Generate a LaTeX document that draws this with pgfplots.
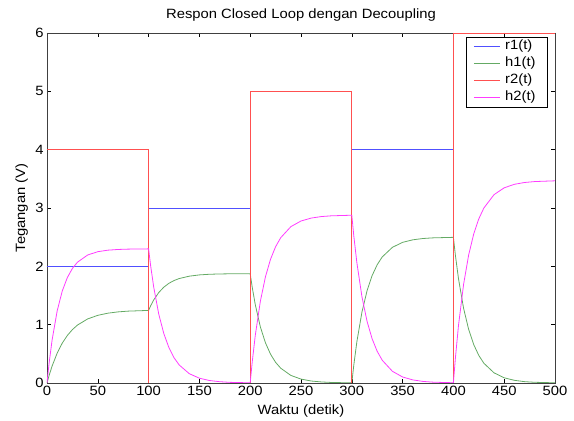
\documentclass[border=0pt]{standalone}
\usepackage{pgfplots}
\pgfplotsset{compat=1.18}
\usepackage{fontspec}
\setmainfont{Liberation Sans}[FakeStretch=1.1]
\definecolor{cr1}{RGB}{80,80,255}
\definecolor{ch1}{RGB}{100,170,100}
\definecolor{cr2}{RGB}{255,80,80}
\definecolor{ch2}{RGB}{255,60,255}

\begin{document}
\begin{tikzpicture}
\begin{axis}[
    name=ax,
    width=508bp, height=350bp, scale only axis,
    xmin=0, xmax=500, ymin=0, ymax=6,
    xtick={0,50,...,500}, ytick={0,1,...,6},
    tick align=inside, major tick length=4bp,
    tick style={black, line width=0.5pt},
    axis line style={black!75, line width=0.6pt},
    font=\fontsize{13.5}{15}\selectfont,
    /pgf/number format/assume math mode=true,
    title={Respon Closed Loop dengan Decoupling},
    title style={at={(axis description cs:0.5,1.034)}, anchor=center},
    xlabel={Waktu (detik)},
    xlabel style={at={(axis description cs:0.5,-0.08)}, anchor=center},
    ylabel={Tegangan (V)},
    ylabel style={at={(axis description cs:-0.05,0.5)}, anchor=center},
    legend style={at={(0.986,0.989)}, anchor=north east, draw=black, line width=0.5pt,
        font=\fontsize{13.5}{15}\selectfont, inner xsep=7bp, inner ysep=1bp,
        row sep=0pt, fill=white,
        nodes={text height=10bp, text depth=3.5bp, inner ysep=1.75bp, inner xsep=5bp}},
    legend cell align=left,
    legend image code/.code={\draw[#1] (0bp,0bp) -- (26bp,0bp);},
    every axis plot/.append style={line width=0.8pt},
]
% r1(t)
\addplot[cr1] coordinates {(0,2)(100,2)(100,3)(200,3)(200,0)(300,0)(300,4)(400,4)(400,0)(500,0)};
\addlegendentry{r1(t)}
% h1(t)
\addplot[ch1] coordinates {
(0,0)(2,0.125)(5,0.289)(10,0.511)(15,0.683)(20,0.814)(25,0.915)(30,0.993)(40,1.098)(50,1.160)(60,1.197)(70,1.219)(80,1.232)
(100,1.244)(102,1.323)(105,1.423)(110,1.551)(115,1.643)(120,1.709)(125,1.756)(130,1.790)(140,1.831)(150,1.853)(160,1.864)(170,1.869)(180,1.872)
(200,1.874)(202,1.640)(205,1.343)(210,0.962)(215,0.689)(220,0.494)(225,0.354)(230,0.254)(240,0.130)(250,0.067)(260,0.034)(270,0.018)(280,0.009)
(300,0.002)(302,0.312)(305,0.709)(310,1.217)(315,1.580)(320,1.841)(325,2.028)(330,2.162)(340,2.326)(350,2.411)(360,2.454)(370,2.477)(380,2.488)
(400,2.497)(402,2.185)(405,1.789)(410,1.282)(415,0.919)(420,0.658)(425,0.472)(430,0.338)(440,0.174)(450,0.089)(460,0.046)(470,0.023)(480,0.012)(500,0.003)};
\addlegendentry{h1(t)}
% r2(t)
\addplot[cr2] coordinates {(0,4)(100,4)(100,0)(200,0)(200,5)(300,5)(300,0)(400,0)(400,6)(500,6)};
\addlegendentry{r2(t)}
% h2(t)
\addplot[ch2] coordinates {
(0,0)(2,0.329)(5,0.734)(10,1.235)(15,1.576)(20,1.806)(25,1.964)(30,2.071)(40,2.194)(50,2.251)(60,2.277)(70,2.289)(80,2.295)
(100,2.299)(102,2.012)(105,1.647)(110,1.180)(115,0.846)(120,0.606)(125,0.434)(130,0.311)(140,0.160)(150,0.082)(160,0.042)(170,0.022)(180,0.011)
(200,0.003)(202,0.360)(205,0.816)(210,1.401)(215,1.820)(220,2.121)(225,2.336)(230,2.490)(240,2.680)(250,2.777)(260,2.827)(270,2.853)(280,2.866)
(300,2.876)(302,2.517)(305,2.061)(310,1.477)(315,1.058)(320,0.758)(325,0.543)(330,0.389)(340,0.200)(350,0.103)(360,0.053)(370,0.027)(380,0.014)
(400,0.004)(402,0.434)(405,0.984)(410,1.688)(415,2.193)(420,2.555)(425,2.814)(430,3.000)(440,3.229)(450,3.346)(460,3.406)(470,3.437)(480,3.453)(500,3.466)};
\addlegendentry{h2(t)}
\end{axis}
\pgfresetboundingbox
\path ([xshift=-47bp,yshift=-38bp]ax.south west) rectangle ([xshift=19bp,yshift=33bp]ax.north east);
\end{tikzpicture}
\end{document}
